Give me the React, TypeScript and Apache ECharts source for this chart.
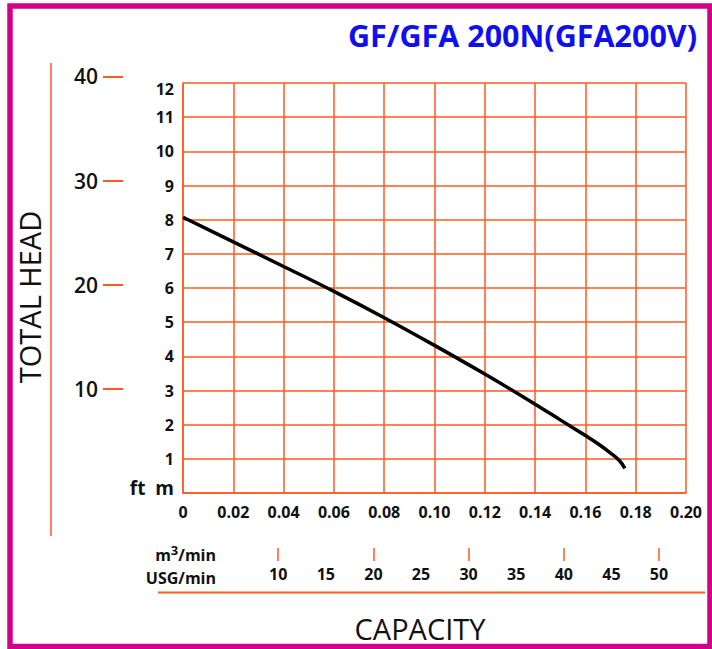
import React, { useEffect, useRef } from "react";
import * as echarts from "echarts";

// Capacity (m³/min) and total head (m)
const capacityM3: number[] = [0, 0.02, 0.04, 0.06, 0.08, 0.1, 0.12, 0.14, 0.15, 0.16, 0.165, 0.17, 0.1735, 0.1757];
const headM: number[] = [8.07, 7.35, 6.63, 5.9, 5.13, 4.32, 3.48, 2.6, 2.14, 1.68, 1.44, 1.17, 0.95, 0.72];

// Tick labels
const ftTicks: number[] = [10, 20, 30, 40];
const usgLabels: number[] = [10, 15, 20, 25, 30, 35, 40, 45, 50];
const usgTicks: number[] = [10, 20, 30, 40, 50];

const TITLE = "GF/GFA 200N(GFA200V)";
const Y_TITLE = "TOTAL HEAD";
const X_TITLE = "CAPACITY";

const M_PER_FT = 0.3048;
const M3_PER_USG = 0.0037854;
const X_MAX = 0.2;
const Y_MAX_M = 12;

const ORANGE = "#ff5a1e";
const MAGENTA = "#d4008c";
const FONT = "'Open Sans', 'Noto Sans', sans-serif";

export default function App() {
  const ref = useRef<HTMLDivElement>(null);

  useEffect(() => {
    if (!ref.current) return;
    const chart = echarts.init(ref.current, undefined, { renderer: "svg" });

    const gridLeft = 183;
    const gridTop = 83;
    const gridW = 503;
    const gridH = 410;
    const pxPerM = gridH / Y_MAX_M;
    const ftMax = 40;
    const ftH = ftMax * M_PER_FT * pxPerM;

    const numLabel = { color: "#111", fontFamily: FONT, fontWeight: 700, fontSize: 16 };

    const option: any = {
      animation: false,
      backgroundColor: "#ffffff",
      textStyle: { fontFamily: FONT },
      grid: [
        { left: gridLeft, top: gridTop, width: gridW, height: gridH },
        { left: 123, top: gridTop + gridH - ftH, width: 10, height: ftH },
        { left: gridLeft, top: 540, width: gridW, height: 8 },
      ],
      xAxis: [
        {
          gridIndex: 0,
          type: "value",
          min: 0,
          max: X_MAX,
          interval: 0.02,
          axisLine: { show: true, lineStyle: { color: ORANGE, width: 1.5 } },
          axisTick: { show: false },
          splitLine: { show: true, lineStyle: { color: ORANGE, width: 1.5 } },
          axisLabel: {
            ...numLabel,
            margin: 11,
            formatter: (v: number) => (v === 0 ? "0" : v.toFixed(2)),
          },
        },
        { gridIndex: 1, type: "value", show: false, min: 0, max: 1 },
        {
          gridIndex: 2,
          type: "value",
          position: "bottom",
          min: 0,
          max: X_MAX / M3_PER_USG,
          axisLine: { show: false },
          splitLine: { show: false },
          axisTick: {
            show: true,
            length: 13,
            customValues: usgTicks,
            lineStyle: { color: ORANGE, width: 1.5 },
          },
          axisLabel: {
            ...numLabel,
            customValues: usgLabels,
            margin: 18,
          },
        },
      ],
      yAxis: [
        {
          gridIndex: 0,
          type: "value",
          min: 0,
          max: Y_MAX_M,
          interval: 1,
          axisLine: { show: true, lineStyle: { color: ORANGE, width: 1.5 } },
          axisTick: { show: false },
          splitLine: { show: true, lineStyle: { color: ORANGE, width: 1.5 } },
          axisLabel: {
            ...numLabel,
            margin: 9,
            formatter: (v: number) => {
              if (v === 0) return "{u|ft  m}";
              if (v === Y_MAX_M) return "{t|" + v + "}";
              return String(v);
            },
            rich: {
              u: { fontFamily: FONT, fontWeight: 700, fontSize: 19, color: "#111", padding: [0, 0, 10, 0] },
              t: { fontFamily: FONT, fontWeight: 700, fontSize: 16, color: "#111", padding: [12, 0, 0, 0] },
            },
          },
        },
        {
          gridIndex: 1,
          type: "value",
          min: 0,
          max: ftMax,
          axisLine: { show: false },
          splitLine: { show: false },
          axisTick: {
            show: true,
            length: 20,
            customValues: ftTicks,
            lineStyle: { color: ORANGE, width: 2 },
          },
          axisLabel: {
            customValues: ftTicks,
            margin: 25,
            color: "#111",
            fontFamily: FONT,
            fontWeight: 600,
            fontSize: 21,
          },
        },
        { gridIndex: 2, type: "value", show: false, min: 0, max: 1 },
      ],
      series: [
        {
          type: "line",
          xAxisIndex: 0,
          yAxisIndex: 0,
          data: capacityM3.map((x, i) => [x, headM[i]]),
          smooth: 0.4,
          symbol: "none",
          lineStyle: { color: "#000", width: 3.5 },
        },
      ],
      graphic: [
        {
          type: "rect",
          shape: { x: 10, y: 6, width: 700, height: 640.5 },
          style: { fill: "none", stroke: MAGENTA, lineWidth: 5.5 },
          silent: true,
        },
        {
          type: "line",
          shape: { x1: 51, y1: 63, x2: 51, y2: 536 },
          style: { stroke: ORANGE, lineWidth: 1.5 },
        },
        {
          type: "line",
          shape: { x1: 158, y1: 592.5, x2: 705, y2: 592.5 },
          style: { stroke: ORANGE, lineWidth: 2 },
        },
        {
          type: "text",
          x: 697,
          y: 35,
          style: {
            text: TITLE,
            fill: "#1010ee",
            font: `700 30.5px ${FONT}`,
            align: "right",
            verticalAlign: "middle",
          },
        },
        {
          type: "text",
          x: 29,
          y: 297,
          rotation: Math.PI / 2,
          style: {
            text: Y_TITLE,
            fill: "#111",
            font: `400 29px ${FONT}`,
            align: "center",
            verticalAlign: "middle",
          },
        },
        {
          type: "text",
          x: 420,
          y: 628,
          style: {
            text: X_TITLE,
            fill: "#111",
            font: `400 29px ${FONT}`,
            align: "center",
            verticalAlign: "middle",
          },
        },
        {
          type: "text",
          x: 216,
          y: 553,
          style: {
            text: "{a|m}{s|3}{a|/min}",
            align: "right",
            verticalAlign: "middle",
            rich: {
              a: { fontFamily: FONT, fontWeight: 700, fontSize: 16, fill: "#111", verticalAlign: "bottom" },
              s: { fontFamily: FONT, fontWeight: 700, fontSize: 13, fill: "#111", verticalAlign: "top", padding: [0, 0, 6, 0] },
            },
          },
        },
        {
          type: "text",
          x: 216,
          y: 578,
          style: {
            text: "USG/min",
            fill: "#111",
            font: `700 16px ${FONT}`,
            align: "right",
            verticalAlign: "middle",
          },
        },
      ],
    };

    chart.setOption(option);
    return () => chart.dispose();
  }, []);

  return (
    <div
      ref={ref}
      style={{ position: "fixed", left: 0, top: 0, width: 712, height: 649 }}
    />
  );
}
